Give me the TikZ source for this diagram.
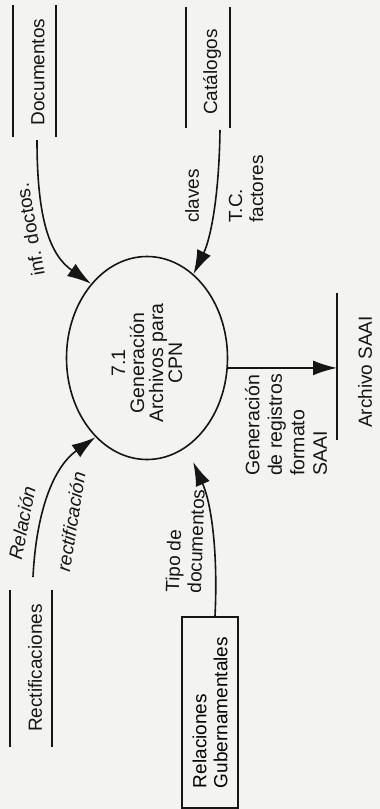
\documentclass[tikz,border=0pt]{standalone}
\usepackage{fontspec}
\setmainfont{Liberation Sans}
\usetikzlibrary{shapes.geometric,arrows.meta,calc}
\definecolor{paper}{HTML}{F3F3F1}
\definecolor{ink}{HTML}{151515}
\begin{document}
\begin{tikzpicture}[x=1pt,y=1pt,
  txt/.style={font=\fontsize{19}{21}\selectfont, text=ink, inner sep=0pt},
  vtxt/.style={txt, rotate=90},
  storeline/.style={draw=ink, line width=1.9pt},
  flow/.style={draw=ink, line width=1.6pt, -{Latex[length=24pt,width=15pt]}},
  process/.style={ellipse, draw=ink, line width=1.6pt, inner sep=0pt,
                  minimum width=161pt, minimum height=203pt},
  entity/.style={rectangle, draw=ink, line width=1.6pt, rotate=90,
                 minimum width=191pt, minimum height=56pt, inner sep=0pt,
                 align=left, font=\fontsize{19}{21}\selectfont}]
  % page
  \fill[paper] (0,0) rectangle (380,-809);
  \useasboundingbox (0,0) rectangle (380,-809);

  % process 7.1
  \node[process] (p) at (147,-358) {};
  \node[vtxt, align=center, font=\fontsize{19.5}{19}\selectfont] (ptxt) at (147,-363)
    {7.1\\Generación\\Archivos para\\CPN};

  % data stores
  \node[vtxt] (doc) at (38,-72) {Documentos};
  \draw[storeline] (13,-5) -- (13,-137);
  \draw[storeline] (56,-5) -- (56,-137);
  \coordinate (docout) at (37,-140);

  \node[vtxt] (cat) at (212,-72) {Catálogos};
  \draw[storeline] (186,-7) -- (186,-128);
  \draw[storeline] (230,-7) -- (230,-128);
  \coordinate (catout) at (220,-130);

  \node[vtxt] (rect) at (35,-668) {Rectificaciones};
  \draw[storeline] (10,-590) -- (10,-747);
  \draw[storeline] (52,-590) -- (52,-747);
  \coordinate (rectout) at (33,-577);

  \node[vtxt] (saai) at (365,-372) {Archivo SAAI};
  \coordinate (saaitop) at (337,-293);
  \draw[storeline] (saaitop) -- (337,-440);

  % external entity
  \node[entity] (rg) at (210,-712.5) {Relaciones\\Gubernamentales};

  % flows
  \draw[flow] (docout) .. controls (37,-220) and (50,-255) .. (p.127);
  \draw[flow] (catout) .. controls (219,-200) and (210,-240) .. (p.61);
  \draw[flow] (rectout) .. controls (36,-515) and (52,-468) .. (p.237);
  \draw[flow, shorten >=16pt] ($(rg.east)+(5,0)$) .. controls (218,-555) and (212,-505) .. (p.294);
  \draw[flow] (p.-7) -- (p.-7 -| saaitop);

  % flow labels
  \node[txt, rotate=100] (l1) at (30,-230) {inf. doctos.};
  \node[vtxt] (l2) at (192,-196) {claves};
  \node[vtxt, align=left] (l3) at (246,-189) {T.C.\\factores};
  \node[txt, rotate=79, font=\fontsize{19}{21}\selectfont\itshape] (l4) at (22,-523) {Relación};
  \node[txt, rotate=81, font=\fontsize{19}{21}\selectfont\itshape] (l5) at (71,-522) {rectificación};
  \node[txt, rotate=88, align=left, font=\fontsize{19}{22}\selectfont] (l6) at (185,-541) {Tipo de\\documentos};
  \node[vtxt, align=left, font=\fontsize{19.5}{22.5}\selectfont] (l7) at (286,-425)
    {Generación\\de registros\\formato\\SAAI};
\end{tikzpicture}
\end{document}
